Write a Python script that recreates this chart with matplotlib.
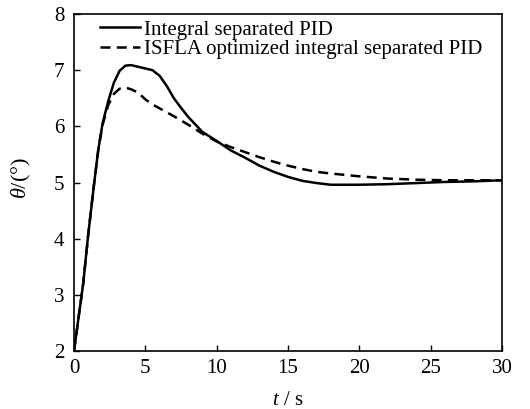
import matplotlib
matplotlib.use("Agg")
import matplotlib.pyplot as plt

plt.rcParams['font.family'] = ['Liberation Serif', 'DejaVu Serif']
plt.rcParams['mathtext.fontset'] = 'custom'
plt.rcParams['mathtext.rm'] = 'Liberation Serif'
plt.rcParams['mathtext.it'] = 'Liberation Serif:italic'

t_pid = [0, 0.3, 0.65, 1.0, 1.4, 1.7, 2.0, 2.4, 2.8, 3.2, 3.6, 4.0, 4.5, 5.0, 5.5,
         6.0, 6.5, 7.0, 7.5, 8.0, 9.0, 10, 11, 12, 13, 14, 15, 16, 17, 18, 20,
         22, 24, 26, 28, 30]
y_pid = [2.0, 2.56, 3.21, 4.08, 4.96, 5.58, 6.05, 6.45, 6.78, 6.99, 7.08, 7.09,
         7.06, 7.03, 7.0, 6.9, 6.72, 6.5, 6.33, 6.17, 5.9, 5.74, 5.57, 5.44,
         5.30, 5.19, 5.10, 5.03, 4.99, 4.96, 4.96, 4.97, 4.99, 5.01, 5.02, 5.04]

t_isfla = [0, 0.3, 0.65, 1.0, 1.4, 1.7, 2.0, 2.4, 2.8, 3.2, 3.6, 4.0, 4.5, 5.0,
           5.5, 6.0, 7.0, 8.0, 9.0, 10, 11, 12, 13, 14, 15, 16, 17, 18, 20, 22,
           24, 26, 28, 30]
y_isfla = [2.0, 2.56, 3.21, 4.08, 4.96, 5.58, 6.02, 6.38, 6.58, 6.67, 6.69,
           6.66, 6.6, 6.48, 6.39, 6.32, 6.18, 6.03, 5.87, 5.73, 5.63, 5.54,
           5.45, 5.37, 5.30, 5.24, 5.19, 5.16, 5.11, 5.07, 5.05, 5.04, 5.04, 5.04]

labels = ['Integral separated PID', 'ISFLA optimized integral separated PID']
xticks = [0, 5, 10, 15, 20, 25, 30]
yticks = [2, 3, 4, 5, 6, 7, 8]

fig = plt.figure(figsize=(5.30, 4.09), dpi=100)
ax = fig.add_axes([74/530, 1-351/409, 428/530, 337/409])

ax.plot(t_pid, y_pid, color='black', lw=1.8, label=labels[0])
ax.plot(t_isfla, y_isfla, color='black', lw=1.8, ls=(0, (4, 2.5)), label=labels[1])

ax.set_xlim(0, 30)
ax.set_ylim(2, 8)
ax.set_xticks(xticks)
ax.set_yticks(yticks)
ax.tick_params(direction='in', length=4, width=1, labelsize=15)
ax.tick_params(axis='x', pad=6)
ax.tick_params(axis='y', pad=7)
for s in ax.spines.values():
    s.set_linewidth(1.2)

ax.set_xlabel(r'$t$ / s', fontsize=15)
ax.set_ylabel(r'$\theta$/(°)', fontsize=16)
ax.xaxis.set_label_coords(0.5, -0.12)
ax.yaxis.set_label_coords(-0.096, 0.513)

ax.legend(loc='upper left', bbox_to_anchor=((100-74)/428, 0.982), frameon=False,
          fontsize=15, handlelength=1.9, handletextpad=0.2, labelspacing=0.0,
          borderaxespad=0, borderpad=0)

fig.savefig('out.png', dpi=100)
